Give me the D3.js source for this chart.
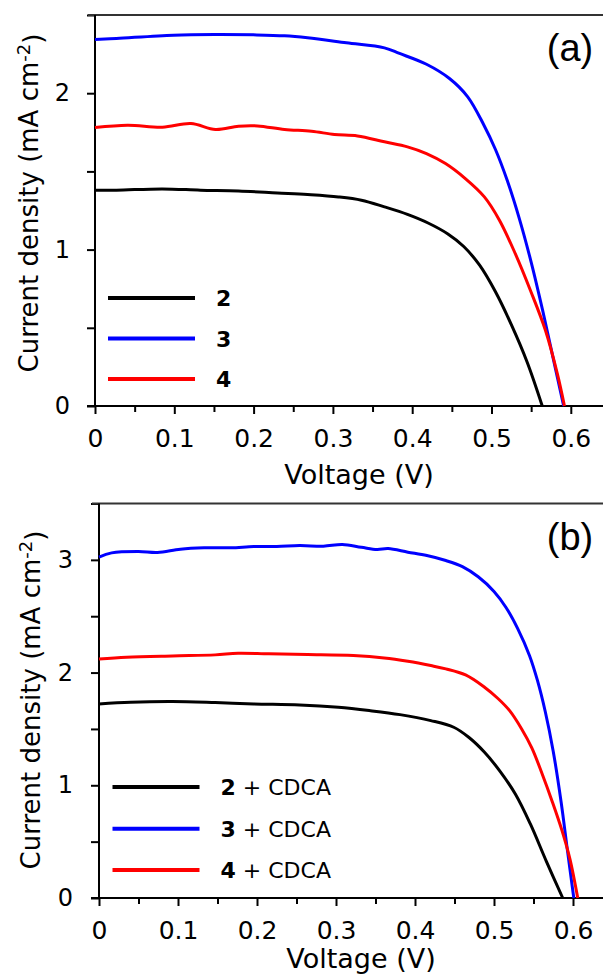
<html>
<head>
<script src="https://d3js.org/d3.v7.min.js"></script>
<style>
body {margin: 0; background: #fff;}
svg text {font-family: "DejaVu Sans", sans-serif; fill: #000;}
</style>
</head>
<body>
<svg id="chart" width="603" height="977"></svg>
<script>
// panel (a): [voltage (V), current density (mA cm-2)]
const curveA2 = [[0,1.38],[0.027,1.38],[0.085,1.388],[0.133,1.38],[0.181,1.375],[0.23,1.362],[0.268,1.352],
  [0.307,1.337],[0.336,1.316],[0.365,1.273],[0.394,1.225],[0.42,1.17],[0.445,1.1],[0.465,1.02],
  [0.485,0.9],[0.505,0.73],[0.525,0.52],[0.545,0.28],[0.564,0]];
const curveA3 = [[0,2.343],[0.027,2.35],[0.099,2.371],[0.152,2.375],[0.2,2.373],[0.239,2.367],[0.268,2.354],
  [0.317,2.322],[0.365,2.29],[0.384,2.254],[0.418,2.185],[0.447,2.094],[0.47,1.977],[0.49,1.8],
  [0.505,1.64],[0.52,1.44],[0.535,1.2],[0.55,0.92],[0.565,0.6],[0.578,0.3],[0.591,0]];
const curveA4 = [[0,1.78],[0.041,1.795],[0.085,1.783],[0.121,1.806],[0.152,1.768],[0.181,1.789],[0.205,1.791],
  [0.239,1.768],[0.273,1.757],[0.302,1.736],[0.331,1.727],[0.365,1.689],[0.394,1.657],[0.418,1.614],
  [0.442,1.55],[0.467,1.454],[0.491,1.337],[0.51,1.188],[0.53,0.974],[0.549,0.74],[0.568,0.484],
  [0.583,0.207],[0.592,0]];

// panel (b): with CDCA
const curveB2 = [[0,1.722],[0.04,1.737],[0.093,1.743],[0.147,1.734],[0.196,1.722],[0.254,1.713],[0.303,1.692],
  [0.342,1.663],[0.381,1.627],[0.42,1.574],[0.449,1.515],[0.468,1.426],[0.488,1.293],[0.507,1.13],
  [0.527,0.923],[0.546,0.657],[0.566,0.33],[0.587,0]];
const curveB3 = [[0,3.024],[0.016,3.062],[0.05,3.074],[0.074,3.065],[0.103,3.095],[0.133,3.107],[0.167,3.107],
  [0.196,3.118],[0.225,3.118],[0.254,3.127],[0.284,3.121],[0.308,3.136],[0.332,3.112],[0.352,3.092],
  [0.366,3.1],[0.391,3.068],[0.415,3.038],[0.439,2.994],[0.46,2.94],[0.48,2.85],[0.5,2.72],
  [0.515,2.58],[0.53,2.39],[0.545,2.15],[0.555,1.93],[0.565,1.65],[0.575,1.3],[0.585,0.85],
  [0.593,0.42],[0.601,0]];
const curveB4 = [[0,2.121],[0.035,2.136],[0.093,2.148],[0.147,2.157],[0.176,2.172],[0.215,2.166],[0.264,2.16],
  [0.322,2.151],[0.361,2.13],[0.391,2.1],[0.42,2.062],[0.439,2.033],[0.464,1.979],[0.488,1.87],
  [0.505,1.77],[0.52,1.66],[0.535,1.5],[0.548,1.33],[0.561,1.1],[0.574,0.85],[0.586,0.6],
  [0.596,0.35],[0.606,0]];

const xTicks = [0, 0.1, 0.2, 0.3, 0.4, 0.5, 0.6];
const xMinor = [0.05, 0.15, 0.25, 0.35, 0.45, 0.55, 0.65];
const yTicksA = [0, 1, 2];
const yMinorA = [0.5, 1.5, 2.5];
const yTicksB = [0, 1, 2, 3];
const yMinorB = [0.5, 1.5, 2.5, 3.5];
const seriesNames = ["2", "3", "4"];
const seriesColors = ["#000000", "#0000ff", "#ff0000"];

const svg = d3.select("#chart");

function drawPanel(opt) {
  const g = svg.append("g");
  const x = d3.scaleLinear().domain([0, 0.65]).range([opt.left, opt.left + 0.65 * opt.xUnit]);
  const y = d3.scaleLinear().domain([0, opt.yMax]).range([opt.bottom, opt.top]);

  // minor ticks
  g.append("g").attr("transform", "translate(0," + opt.bottom + ")")
    .call(d3.axisBottom(x).tickValues(xMinor).tickSize(6).tickFormat(""))
    .call(a => a.select(".domain").remove());
  g.append("g").attr("transform", "translate(" + opt.left + ",0)")
    .call(d3.axisLeft(y).tickValues(opt.yMinor).tickSize(8).tickFormat(""))
    .call(a => a.select(".domain").remove());

  // major ticks
  const xa = g.append("g").attr("transform", "translate(0," + opt.bottom + ")")
    .call(d3.axisBottom(x).tickValues(xTicks).tickSize(8).tickPadding(15).tickFormat(d3.format("")));
  xa.select(".domain").remove();
  xa.selectAll("text").style("font-size", "25px");
  const ya = g.append("g").attr("transform", "translate(" + opt.left + ",0)")
    .call(d3.axisLeft(y).tickValues(opt.yTicks).tickSize(8).tickPadding(opt.yPad).tickFormat(d3.format("d")));
  ya.select(".domain").remove();
  ya.selectAll("text").style("font-size", "24px");
  g.selectAll(".tick line").attr("stroke", "#000").attr("stroke-width", 2);

  // frame lines
  g.append("line").attr("x1", opt.left - 8).attr("x2", 603).attr("y1", opt.bottom).attr("y2", opt.bottom)
    .attr("stroke", "#000").attr("stroke-width", 2);
  g.append("line").attr("x1", opt.left - 7).attr("x2", 603).attr("y1", y(opt.yMax)).attr("y2", y(opt.yMax))
    .attr("stroke", "#333").attr("stroke-width", 2);
  g.append("line").attr("x1", opt.left).attr("x2", opt.left).attr("y1", y(opt.yMax)).attr("y2", opt.bottom + 1)
    .attr("stroke", "#000").attr("stroke-width", 2);

  // curves
  const line = d3.line().x(d => x(d[0])).y(d => y(d[1])).curve(d3.curveCatmullRom.alpha(0.5));
  opt.curves.forEach((c, i) => {
    g.append("path").datum(c).attr("d", line).attr("fill", "none")
      .attr("stroke", seriesColors[i]).attr("stroke-width", 3).attr("stroke-linejoin", "round");
  });

  // legend
  seriesNames.forEach((n, i) => {
    const ly = opt.legendY[i];
    g.append("line").attr("x1", opt.legendX).attr("x2", opt.legendX + 87).attr("y1", ly).attr("y2", ly)
      .attr("stroke", seriesColors[i]).attr("stroke-width", 4);
    const t = g.append("text").attr("x", opt.legendX + 108).attr("y", ly).attr("dy", "0.36em")
      .style("font-size", "22px");
    t.append("tspan").style("font-weight", "bold").text(n);
    if (opt.suffix) t.append("tspan").text(opt.suffix);
  });

  // panel letter
  g.append("text").attr("x", 570).attr("y", opt.top + 46).attr("text-anchor", "middle")
    .style("font-family", "'Liberation Sans', Arial, sans-serif").style("font-size", "38px").text(opt.letter);

  // axis titles
  g.append("text").attr("x", opt.xTitleX).attr("y", opt.xTitleY).attr("text-anchor", "middle")
    .style("font-size", "27px").text("Voltage (V)");
  const yt = g.append("text").attr("text-anchor", "middle")
    .attr("transform", "translate(" + opt.yTitleX + "," + opt.yTitleY + ") rotate(-90)")
    .style("font-size", "26px");
  yt.append("tspan").text("Current density (mA cm");
  yt.append("tspan").attr("dy", "-0.45em").style("font-size", "18px").text("-2");
  yt.append("tspan").attr("dy", "0.45em").text(")");
}

drawPanel({left: 95, xUnit: 793, bottom: 406, top: 15, yMax: 2.5, yTicks: yTicksA, yMinor: yMinorA, yPad: 17,
  curves: [curveA2, curveA3, curveA4], legendY: [298, 338.6, 379], legendX: 108, suffix: null,
  letter: "(a)", xTitleX: 359, xTitleY: 484, yTitleX: 38, yTitleY: 203});

drawPanel({left: 99, xUnit: 790, bottom: 898, top: 503.5, yMax: 3.5, yTicks: yTicksB, yMinor: yMinorB, yPad: 18,
  curves: [curveB2, curveB3, curveB4], legendY: [787, 828.8, 870], legendX: 112.5, suffix: " + CDCA",
  letter: "(b)", xTitleX: 361, xTitleY: 968, yTitleX: 40, yTitleY: 700});
</script>
</body>
</html>
